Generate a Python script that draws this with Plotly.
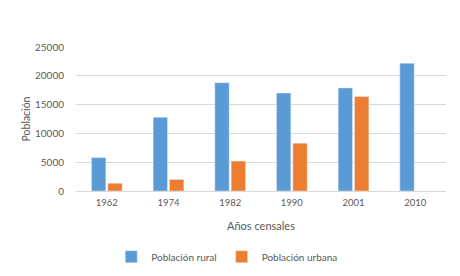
import plotly.graph_objects as go

years = ["1962", "1974", "1982", "1990", "2001", "2010"]
rural = [5800, 12800, 18800, 17000, 17900, 22200]
urbana = [1350, 2000, 5200, 8300, 16400, None]
y_ticks = [0, 5000, 10000, 15000, 20000, 25000]
y_tick_labels = ["0", "5000", "10000", "15000", "20000", "25000"]

FAM = "Lato, Open Sans, sans-serif"
GRAY = "#595959"

fig = go.Figure()
fig.add_bar(x=years, y=rural, name="Población rural", marker_color="#5B9BD5")
fig.add_bar(x=years, y=urbana, name="Población urbana", marker_color="#ED7D31")

# the page body has an 8px default margin, so the figure is sized to fit the window
fig.update_layout(
    width=452, height=268,
    margin=dict(l=68, r=14, t=39, b=85),
    paper_bgcolor="white", plot_bgcolor="white",
    barmode="group", bargap=0.47, bargroupgap=0.12,
    font=dict(family=FAM, size=9.5, color=GRAY),
    showlegend=True,
    legend=dict(orientation="h", x=0.485, xref="container", xanchor="center",
                y=0.072, yref="container", yanchor="middle",
                font=dict(family=FAM, size=10, color=GRAY),
                itemwidth=30, tracegroupgap=0),
    xaxis=dict(type="category", showgrid=False, showline=True, linecolor="#d9d9d9", linewidth=1,
               ticks="", tickfont=dict(family=FAM, size=9.5, color=GRAY), automargin=False,
               ticklabelstandoff=3,
               title=dict(text="Años censales", font=dict(family=FAM, size=11, color=GRAY), standoff=14)),
    yaxis=dict(range=[0, 25000], tickvals=y_ticks, ticktext=y_tick_labels,
               showgrid=True, gridcolor="#d9d9d9", gridwidth=1, automargin=False,
               zeroline=False, showline=False, ticks="", tickfont=dict(family=FAM, size=10, color=GRAY),
               ticklabelstandoff=11,
               title=dict(text="Población", font=dict(family=FAM, size=10.5, color=GRAY), standoff=2)),
)
fig.write_html("out.html")
